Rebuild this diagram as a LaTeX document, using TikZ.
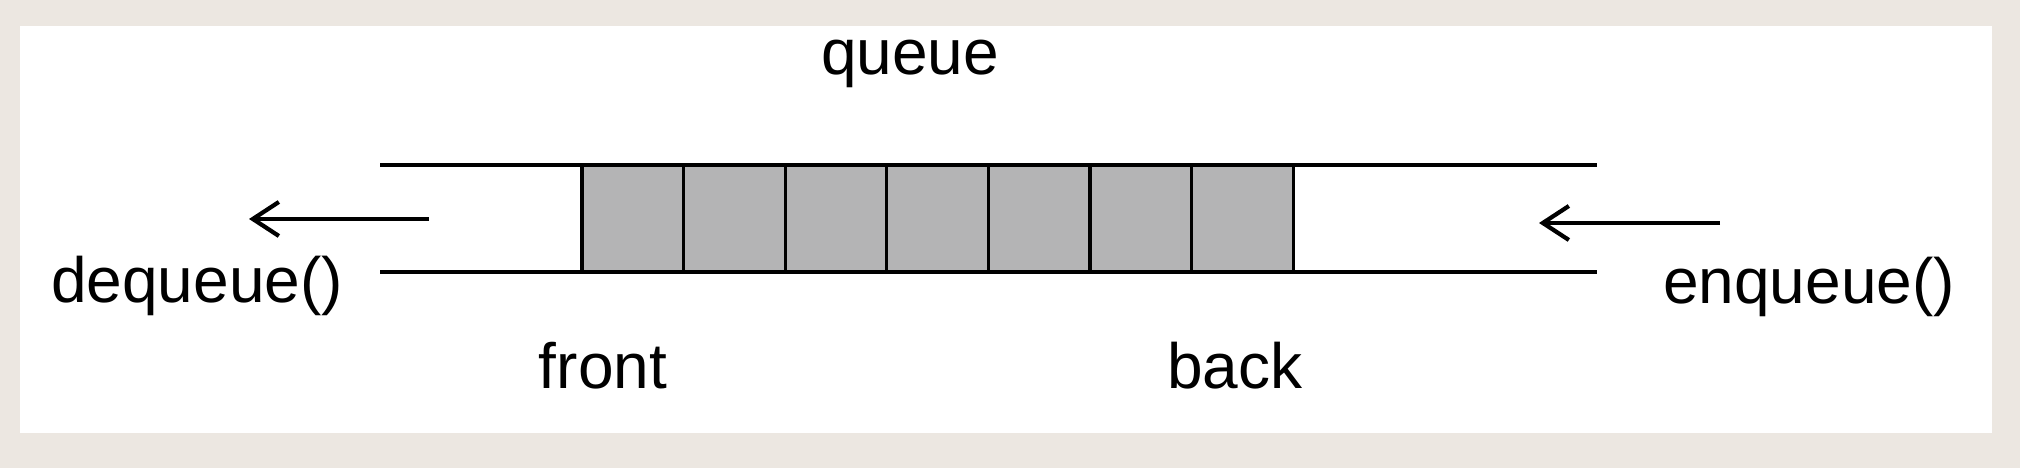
\documentclass[tikz,border=0pt]{standalone}
\usepackage{fontspec}
\setmainfont{Liberation Sans}
\usetikzlibrary{arrows.meta}
\definecolor{bgbeige}{HTML}{ECE7E1}
\definecolor{cellgray}{HTML}{B4B4B5}
\tikzset{
  cellbox/.style={draw=black, line width=0.9pt, fill=cellgray, minimum width=1.016cm, minimum height=1.07cm, inner sep=0pt, outer sep=0pt},
  rail/.style={line width=0.9pt},
  movearrow/.style={line width=1.2pt, -{Straight Barb[length=0.26cm, width=0.34cm, line width=1.2pt]}},
  label/.style={inner sep=0pt, anchor=base, font=\fontsize{18.2pt}{22pt}\selectfont}
}
\begin{document}
\begin{tikzpicture}[x=0.01cm, y=-0.01cm]
\useasboundingbox (0,0) rectangle (2020,468);
\fill[bgbeige] (0,0) rectangle (2020,468);
\fill[white] (20,26) rectangle (1992,433);
% cells
\foreach \i in {0,...,6} {
  \node[cellbox] (c\i) at ({582+50.8+101.6*\i},218.5) {};
}
% rails
\coordinate (tl) at (380,165);
\coordinate (tr) at (1597,165);
\coordinate (bl) at (380,272);
\coordinate (br) at (1597,272);
\draw[rail] (tl) -- (tr);
\draw[rail] (bl) -- (br);
% arrows
\coordinate (dqs) at (429,219);
\coordinate (dqe) at (249,219);
\coordinate (eqs) at (1720,223);
\coordinate (eqe) at (1539,223);
\draw[movearrow] (dqs) -- (dqe);
\draw[movearrow] (eqs) -- (eqe);
% labels
\node[label] (queue) at (910,75) {queue};
\node[label] (dequeue) at (197,303) {dequeue()};
\node[label] (enqueue) at (1809,304) {enqueue()};
\node[label] (front) at (603,389) {front};
\node[label] (back) at (1235,389) {back};
\end{tikzpicture}
\end{document}
